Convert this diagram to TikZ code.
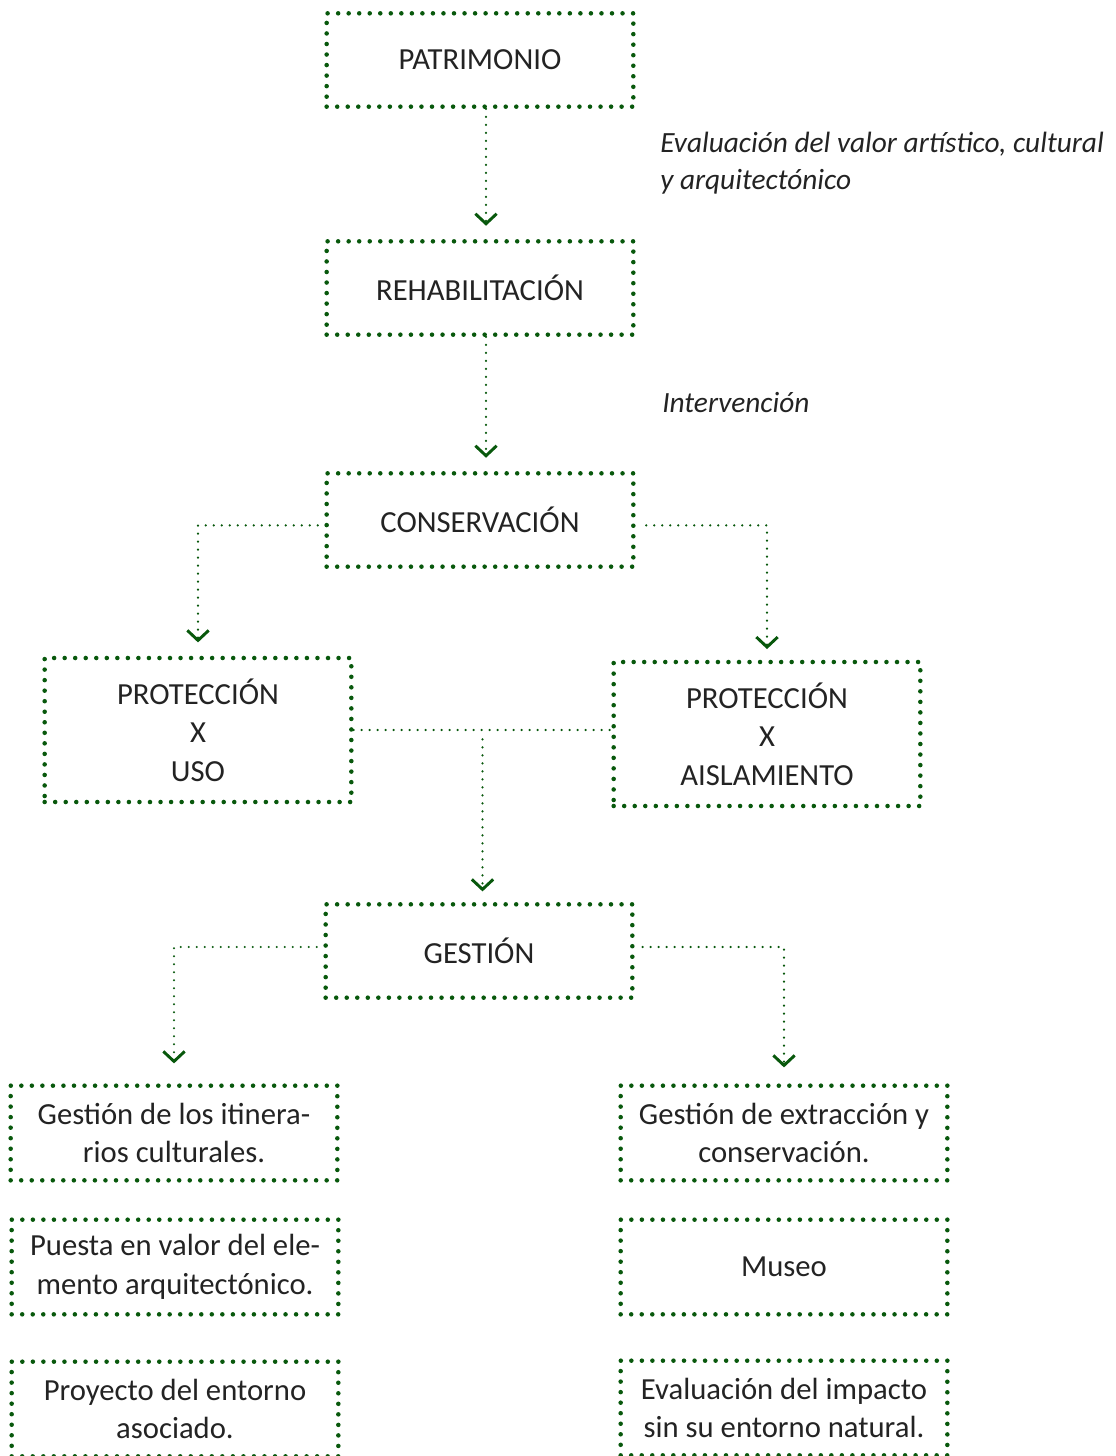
\documentclass[tikz,border=0pt]{standalone}
\usepackage{fontspec}
\setmainfont{Carlito}
\usetikzlibrary{arrows.meta,calc}
\definecolor{boxgreen}{RGB}{8,88,12}
\definecolor{txtgray}{RGB}{35,35,35}
\tikzset{
  box/.style={draw=boxgreen, line width=3.4pt, line cap=round, dash pattern=on 0pt off 7.9pt,
    text=txtgray, minimum width=230pt, minimum height=70pt, align=center, inner sep=0pt,
    font=\fontsize{23}{29}\selectfont},
  wide/.style={box, minimum width=245pt, minimum height=71pt},
  tall/.style={box, minimum height=108pt},
  link/.style={draw=boxgreen, line width=1.8pt, line cap=round, dash pattern=on 0pt off 6pt,
    -{Straight Barb[length=7.5pt,width=16pt,line width=2.2pt]}},
  note/.style={text=txtgray, font=\fontsize{22}{28}\selectfont\itshape, align=left,
    anchor=west, inner sep=0pt}
}
\begin{document}
\begin{tikzpicture}[x=0.75pt, y=-0.75pt]
  \useasboundingbox (0,0) rectangle (1116,1456);
  % main chain
  \node[box] (patr) at (480,60) {PATRIMONIO};
  \node[box] (rehab) at (480,288) {REHABILITACIÓN};
  \node[box] (cons) at (480,520) {CONSERVACIÓN};
  \node[tall] (puso) at (198,730) {PROTECCIÓN\\X\\USO};
  \node[tall] (pais) at (767,734) {PROTECCIÓN\\X\\AISLAMIENTO};
  \node[box] (gest) at (479,951) {GESTIÓN};
  % left column
  \node[wide] (itin) at (174,1133) {Gestión de los itinera-\\rios culturales.};
  \node[wide] (puesta) at (175,1267) {Puesta en valor del ele-\\mento arquitectónico.};
  \node[wide] (proy) at (175,1409) {Proyecto del entorno\\asociado.};
  % right column
  \node[wide] (extr) at (784,1133) {Gestión de extracción y\\conservación.};
  \node[wide] (museo) at (784,1267) {Museo};
  \node[wide] (impac) at (784,1408) {Evaluación del impacto\\sin su entorno natural.};
  % notes
  \node[note] (eval) at (660,163) {Evaluación del valor artístico, cultural\\y arquitectónico};
  \node[note] (interv) at (662,403) {Intervención};
  % connectors
  \draw[link, shorten >=10pt] ([xshift=4.5pt]patr.south) -- ([xshift=4.5pt]rehab.north);
  \draw[link, shorten >=10pt] ([xshift=4.5pt]rehab.south) -- ([xshift=4.5pt]cons.north);
  \draw[link, shorten <=5pt, shorten >=10pt] ([yshift=-4pt]cons.west) -| (puso.north);
  \draw[link, shorten <=8pt, shorten >=8pt] ([yshift=-4pt]cons.east) -| (pais.north);
  \draw[link, -] (puso.east) -- (puso.east -| pais.west);
  \coordinate (mid) at ($(puso.east)!0.5!(puso.east -| pais.west)$);
  \draw[link, shorten <=7pt, shorten >=8pt] (mid) -- (mid |- gest.north);
  \draw[link, shorten <=5pt, shorten >=15pt] ([yshift=3pt]gest.west) -| (itin.north);
  \draw[link, shorten <=6pt, shorten >=12pt] ([yshift=3pt]gest.east) -| (extr.north);
\end{tikzpicture}
\end{document}
